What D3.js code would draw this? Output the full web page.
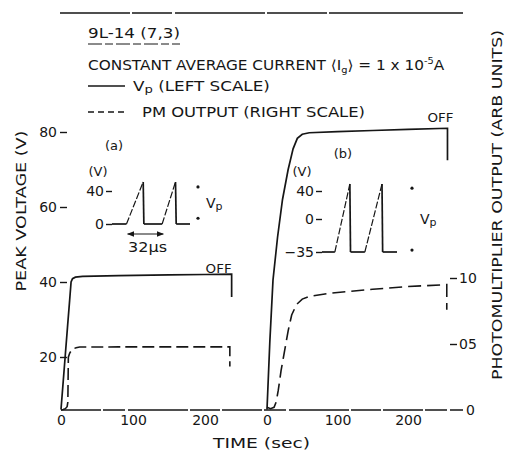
<!DOCTYPE html>
<html>
<head>
<meta charset="utf-8">
<script src="https://cdn.jsdelivr.net/npm/d3@7"></script>
<style>
  html, body { margin: 0; padding: 0; background: #fff; }
  svg text { font-family: "DejaVu Sans", "Liberation Sans", sans-serif; fill: #161616; }
</style>
</head>
<body>
<svg id="chart" width="506" height="451"></svg>
<script>
// ---- axis ticks ----
const timeTicks = [0, 100, 200];
const voltTicks = [20, 40, 60, 80];
const pmTicks = [0, 0.5, 1.0];
const pmTickLabels = ["0", "05", "10"];

// ---- run (a): peak voltage (V) and PM output (arb.) vs time (s) ----
const timeA_vp = [0, 3, 6, 9, 12, 14, 16, 20, 30, 80, 150, 200, 237, 237];
const vpA      = [6, 13.3, 20.6, 27.9, 35.1, 40, 40.9, 41.3, 41.5, 41.7, 41.9, 42.0, 42.1, 36];
const timeA_pm = [0, 3, 6, 8.5, 9.5, 9.8, 10.2, 12, 14, 17, 21, 26, 80, 160, 234.5, 234.5];
const pmA      = [0, 0.003, 0.01, 0.025, 0.06, 0.2, 0.4, 0.43, 0.448, 0.463, 0.472, 0.477, 0.478, 0.478, 0.478, 0.33];

// ---- run (b) ----
const timeB_vp = [0, 4, 8.5, 15, 22, 30, 37, 43, 50, 60, 100, 150, 200, 256, 256];
const vpB      = [6, 24, 40.5, 52, 62, 70, 75.5, 78.3, 79.4, 79.8, 80.1, 80.4, 80.7, 81.0, 72.5];
const timeB_pm = [0, 5, 10, 13, 16, 20, 25, 30, 35, 42, 50, 60, 90, 150, 200, 255, 255];
const pmB      = [0.02, 0.01, 0.02, 0.06, 0.15, 0.3, 0.45, 0.6, 0.72, 0.8, 0.84, 0.86, 0.885, 0.915, 0.935, 0.95, 0.76];

// ---- inset waveforms (time in µs, voltage in V) ----
const insetA_us = [0, 13, 28, 28.6, 45, 57, 57.6, 70];
const insetA_v  = [0, 0, 51, 0, 0, 51, 0, 0];
const insetA_ticks = [0, 40];
const insetA_marks = [45, 7];
const periodUs = [14, 46];

const insetB_us = [0, 12, 26, 26.6, 40, 56, 56.6, 70];
const insetB_v  = [-35, -35, 50, -35, -35, 50, -35, -35];
const insetB_ticks = [-35, 0, 40];
const insetB_marks = [44, -33];

const svg = d3.select("#chart");
const ink = "#161616";

// ---- scales ----
const xA = d3.scaleLinear().domain([0, 200]).range([61, 205]);
const xB = d3.scaleLinear().domain([0, 200]).range([267, 408]);
const yV = d3.scaleLinear().domain([0, 80]).range([432, 132]);
const yPM = d3.scaleLinear().domain([0, 1]).range([410, 278]);

function fit(sel, w) {
  return sel.attr("textLength", w).attr("lengthAdjust", "spacingAndGlyphs");
}
function stretch(sel, x0, w) {
  const bw = sel.node().getBBox().width;
  sel.attr("transform", `translate(${x0},0) scale(${w / bw},1) translate(${-x0},0)`);
}
function vSub(sel, size) {
  sel.append("tspan").text("V");
  sel.append("tspan").attr("font-size", size).attr("dy", 2).text("p");
}

// ---- header ----
svg.append("line").attr("x1", 60).attr("x2", 463).attr("y1", 13).attr("y2", 13)
  .attr("stroke", ink).attr("stroke-width", 1.3).attr("stroke-dasharray", "70,2,40,3,90,2,60,2,140");

fit(svg.append("text").attr("x", 88).attr("y", 38).attr("font-size", 14).text("9L-14 (7,3)"), 92);
svg.append("line").attr("x1", 88).attr("x2", 180).attr("y1", 44).attr("y2", 44)
  .attr("stroke", ink).attr("stroke-width", 1).attr("stroke-dasharray", "14,3,8,3");

const cst = svg.append("text").attr("x", 88).attr("y", 70).attr("font-size", 14);
cst.append("tspan").text("CONSTANT AVERAGE CURRENT ⟨I");
cst.append("tspan").attr("font-size", 9).attr("dy", 3).text("g");
cst.append("tspan").attr("dy", -3).text("⟩ = 1 x 10");
cst.append("tspan").attr("font-size", 9).attr("dy", -6).text("-5");
cst.append("tspan").attr("dy", 6).text("A");
stretch(cst, 88, 357);

// legend
svg.append("line").attr("x1", 88).attr("x2", 125).attr("y1", 86).attr("y2", 86)
  .attr("stroke", ink).attr("stroke-width", 1.6);
const lv = svg.append("text").attr("x", 133).attr("y", 91).attr("font-size", 14);
vSub(lv, 11);
lv.append("tspan").attr("dy", -2).text(" (LEFT SCALE)");
stretch(lv, 133, 137);

svg.append("line").attr("x1", 88).attr("x2", 125).attr("y1", 112).attr("y2", 112)
  .attr("stroke", ink).attr("stroke-width", 1.6).attr("stroke-dasharray", "6,4");
fit(svg.append("text").attr("x", 142).attr("y", 117).attr("font-size", 14).text("PM OUTPUT (RIGHT SCALE)"), 223);

// ---- axes ----
svg.append("line").attr("x1", xA(0)).attr("x2", 463).attr("y1", yPM(0)).attr("y2", yPM(0))
  .attr("stroke", ink).attr("stroke-width", 1.3).attr("stroke-dasharray", "40,2,22,3,60,2,30,2");

function styleAxis(g) {
  g.select(".domain").remove();
  g.selectAll("text").attr("font-size", 14).attr("font-family", null).attr("fill", ink);
  g.selectAll("line").attr("stroke", ink).attr("stroke-width", 1.4);
}

svg.append("g").attr("transform", `translate(0,${yPM(0)})`)
  .call(d3.axisBottom(xA).tickValues(timeTicks).tickSize(0).tickPadding(5).tickFormat(d3.format("d")))
  .call(styleAxis);
svg.append("g").attr("transform", `translate(0,${yPM(0)})`)
  .call(d3.axisBottom(xB).tickValues(timeTicks).tickSize(0).tickPadding(5).tickFormat(d3.format("d")))
  .call(styleAxis);

svg.append("g").attr("transform", "translate(60,0)")
  .call(d3.axisLeft(yV).tickValues(voltTicks).tickSize(-7).tickPadding(3).tickFormat(d3.format("d")))
  .call(styleAxis);

const rAx = svg.append("g").attr("transform", "translate(457,0)")
  .call(d3.axisRight(yPM).tickValues(pmTicks).tickSize(-7).tickPadding(2)
    .tickFormat((d, i) => pmTickLabels[i]))
  .call(styleAxis);
rAx.selectAll(".tick").filter(d => d === 0).each(function () {
  d3.select(this).select("line").remove();
  d3.select(this).select("text").attr("x", 9);
});

fit(svg.append("text").attr("font-size", 14).attr("text-anchor", "middle")
  .attr("transform", "translate(26,211) rotate(-90)").text("PEAK VOLTAGE (V)"), 161);
fit(svg.append("text").attr("font-size", 14).attr("text-anchor", "middle")
  .attr("transform", "translate(502,205) rotate(-90)").text("PHOTOMULTIPLIER OUTPUT (ARB UNITS)"), 350);
fit(svg.append("text").attr("x", 213).attr("y", 448).attr("font-size", 14).text("TIME (sec)"), 97);

// ---- curves ----
function curve(ts, vs, x, y) {
  return d3.line().x((d, i) => x(ts[i])).y((d, i) => y(vs[i]))(ts);
}
svg.append("path").attr("d", curve(timeA_vp, vpA, xA, yV))
  .attr("fill", "none").attr("stroke", ink).attr("stroke-width", 1.7);
svg.append("path").attr("d", curve(timeA_pm, pmA, xA, yPM))
  .attr("fill", "none").attr("stroke", ink).attr("stroke-width", 1.6).attr("stroke-dasharray", "12,5");
svg.append("path").attr("d", curve(timeB_vp, vpB, xB, yV))
  .attr("fill", "none").attr("stroke", ink).attr("stroke-width", 1.7);
svg.append("path").attr("d", curve(timeB_pm, pmB, xB, yPM))
  .attr("fill", "none").attr("stroke", ink).attr("stroke-width", 1.6).attr("stroke-dasharray", "13,6");

fit(svg.append("text").attr("x", xA(237)).attr("y", yV(41.3) - 4).attr("font-size", 13)
  .attr("text-anchor", "end").text("OFF"), 26);
fit(svg.append("text").attr("x", xB(256) + 6).attr("y", yV(80) - 10).attr("font-size", 13)
  .attr("text-anchor", "end").text("OFF"), 26);

// ---- insets ----
function drawInset(us, vs, xs, ys, ticks, marks, markX, label, labelX, labelY, vX, vY) {
  const g = svg.append("g");
  for (let i = 1; i < us.length; i++) {
    const rising = vs[i] > vs[i - 1];
    g.append("line")
      .attr("x1", xs(us[i - 1])).attr("y1", ys(vs[i - 1]))
      .attr("x2", xs(us[i])).attr("y2", ys(vs[i]))
      .attr("stroke", ink).attr("stroke-width", rising ? 1.2 : 1.7)
      .attr("stroke-dasharray", rising ? "7,2" : null);
  }
  g.append("g").attr("transform", `translate(${xs(0)},0)`)
    .call(d3.axisLeft(ys).tickValues(ticks).tickSize(6).tickPadding(2).tickFormat(d3.format("d")))
    .call(styleAxis);
  marks.forEach(m => g.append("circle").attr("cx", markX).attr("cy", ys(m)).attr("r", 1.6).attr("fill", ink));
  const vp = g.append("text").attr("x", markX + 8).attr("y", (ys(marks[0]) + ys(marks[1])) / 2 + 5).attr("font-size", 14);
  vSub(vp, 11);
  g.append("text").attr("x", labelX).attr("y", labelY).attr("font-size", 13).attr("text-anchor", "middle").text(label);
  g.append("text").attr("x", vX).attr("y", vY).attr("font-size", 13).attr("text-anchor", "middle").text("(V)");
  return g;
}

const xIA = d3.scaleLinear().domain([0, 70]).range([112, 190]);
const yIA = d3.scaleLinear().domain([0, 40]).range([224, 191]);
drawInset(insetA_us, insetA_v, xIA, yIA, insetA_ticks, insetA_marks, 198, "(a)", 114, 150, 98, 176);

// 32 µs period marker
const arrowY = 234;
svg.append("defs").append("marker").attr("id", "ah").attr("viewBox", "0 0 10 10")
  .attr("refX", 9).attr("refY", 5).attr("markerWidth", 6).attr("markerHeight", 6)
  .attr("orient", "auto-start-reverse")
  .append("path").attr("d", "M0,1 L10,5 L0,9 Z").attr("fill", ink);
svg.append("line").attr("x1", xIA(periodUs[0])).attr("x2", xIA(periodUs[1]))
  .attr("y1", arrowY).attr("y2", arrowY).attr("stroke", ink).attr("stroke-width", 1.2)
  .attr("marker-start", "url(#ah)").attr("marker-end", "url(#ah)");
fit(svg.append("text").attr("x", 128).attr("y", 252).attr("font-size", 14).text("32µs"), 39);

const xIB = d3.scaleLinear().domain([0, 70]).range([322, 397]);
const yIB = d3.scaleLinear().domain([-35, 0, 40]).range([252, 219, 191]);
drawInset(insetB_us, insetB_v, xIB, yIB, insetB_ticks, insetB_marks, 412, "(b)", 343, 158, 302, 176);
</script>
</body>
</html>
